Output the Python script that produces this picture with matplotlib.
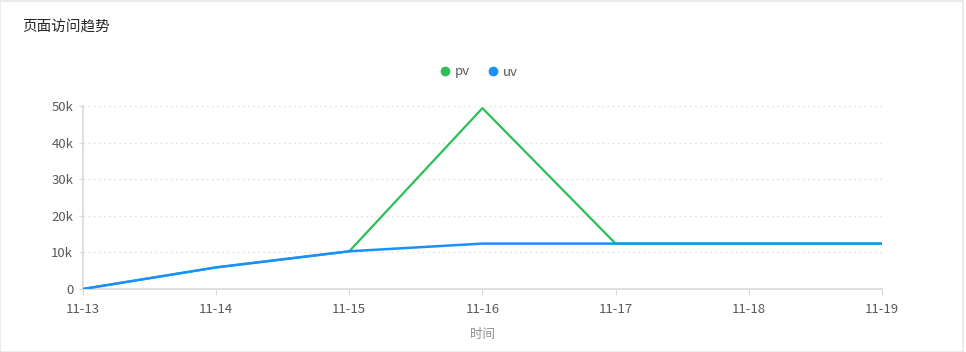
import matplotlib.pyplot as plt
from matplotlib.patches import Rectangle
from matplotlib.lines import Line2D

plt.rcParams['font.family'] = ['Noto Sans CJK SC', 'DejaVu Sans']

# Data
dates = ["11-13", "11-14", "11-15", "11-16", "11-17", "11-18", "11-19"]
pv = [0, 5900, 10300, 49400, 12400, 12400, 12400]
uv = [0, 5900, 10300, 12400, 12400, 12400, 12400]
y_ticks = [0, 10000, 20000, 30000, 40000, 50000]
y_labels = ["0", "10k", "20k", "30k", "40k", "50k"]

GREEN = "#2bbf55"
BLUE = "#1890ff"
TEXT = "#595959"
AXIS = "#d9d9d9"

fig = plt.figure(figsize=(9.66, 3.52), dpi=100)
fig.patch.set_facecolor("white")

# card border
fig.patches.append(Rectangle((0.0005, 0.0), 0.996, 0.997, transform=fig.transFigure,
                             fill=False, edgecolor="#e8e8e8", linewidth=1.2))

ax = fig.add_axes([0.0859, 0.179, 0.827, 0.520])
x = list(range(len(dates)))
ax.plot(x, pv, color=GREEN, linewidth=1.6, zorder=3)
ax.plot(x, uv, color=BLUE, linewidth=1.8, zorder=4)

ax.set_xlim(0, len(dates) - 1)
ax.set_ylim(0, 50000)
ax.set_xticks(x)
ax.set_xticklabels(dates)
ax.set_yticks(y_ticks)
ax.set_yticklabels(y_labels)
ax.tick_params(axis="x", colors=AXIS, labelcolor=TEXT, labelsize=9.5, length=4, pad=6)
ax.tick_params(axis="y", colors=AXIS, labelcolor=TEXT, labelsize=9.5, length=3, pad=4)

for t in y_ticks[1:]:
    ax.axhline(t, color="#e0e0e0", linestyle=(0, (1.2, 2.5)), linewidth=1, zorder=1)

for side in ["top", "right"]:
    ax.spines[side].set_visible(False)
ax.spines["left"].set_color(AXIS)
ax.spines["bottom"].set_color(AXIS)
ax.spines["left"].set_linewidth(1.2)
ax.spines["bottom"].set_linewidth(1.2)

ax.set_xlabel("时间", color="#8c8c8c", fontsize=9, labelpad=9)

fig.text(22 / 966, 1 - 27 / 352, "页面访问趋势", fontsize=10.5, color="#262626",
         ha="left", va="center")

handles = [Line2D([], [], marker="o", linestyle="", color=GREEN, markersize=6),
           Line2D([], [], marker="o", linestyle="", color=BLUE, markersize=6)]
fig.legend(handles, ["pv", "uv"], loc="center", bbox_to_anchor=(478 / 966, 1 - 72 / 352),
           ncol=2, frameon=False, fontsize=9.5, labelcolor=TEXT, handletextpad=0.3,
           columnspacing=1.2, handlelength=1.0)

fig.savefig("out.png", dpi=100, facecolor="white")
